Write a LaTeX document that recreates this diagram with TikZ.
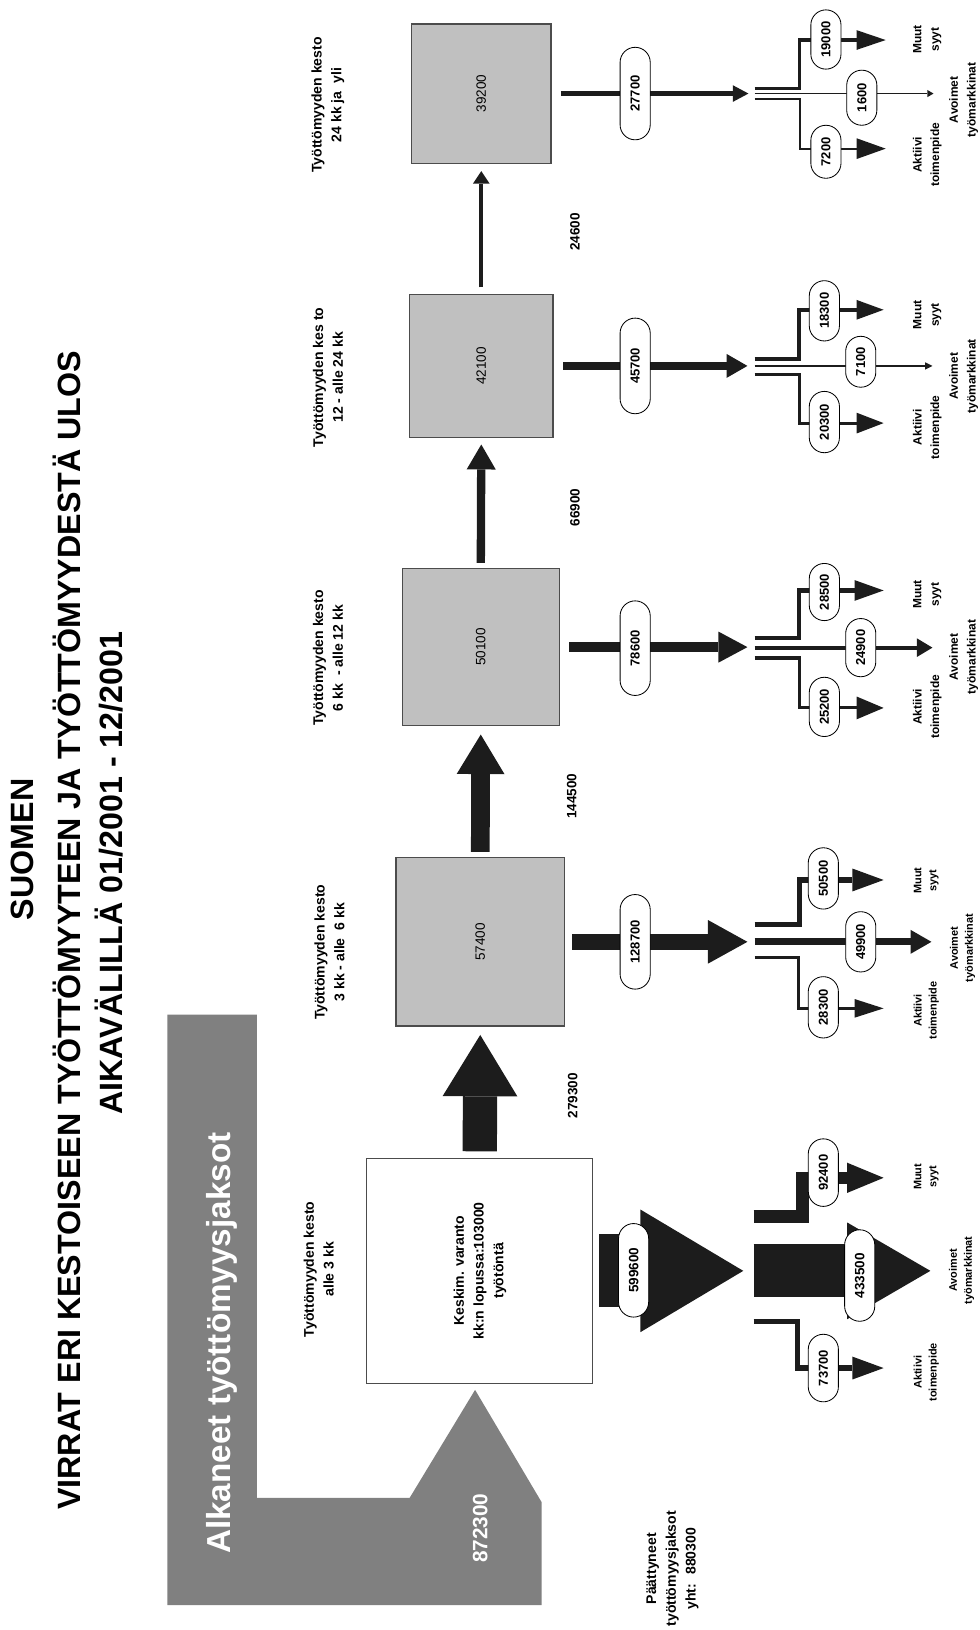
\documentclass[tikz,border=0pt]{standalone}
\usepackage{fontspec}
\setmainfont{Liberation Sans}
\usepackage{graphicx}
\usetikzlibrary{shapes.misc, arrows.meta}
\definecolor{boxgray}{HTML}{C0C0C0}
\definecolor{alkugray}{HTML}{808080}
\definecolor{flowblack}{HTML}{1C1C1C}
\tikzset{
  stagebox/.style={draw=black!70, line width=1.2pt, fill=boxgray, inner sep=0pt, font=\fontsize{13}{15}\selectfont},
  pill/.style={rounded rectangle, draw=black, line width=0.8pt, fill=white, rotate=90, minimum height=29pt, inner sep=1pt, font=\bfseries\fontsize{12.5}{14}\selectfont},
  lbl/.style={rotate=90, align=center, inner sep=0pt, font=\bfseries\fontsize{13.5}{19}\selectfont},
  titlelbl/.style={lbl, font=\bfseries\fontsize{31}{37}\selectfont},
  flowlbl/.style={lbl, font=\bfseries\fontsize{13}{15}\selectfont},
  outlbl/.style={lbl, font=\bfseries\fontsize{11.5}{17}\selectfont},
  outlblsm/.style={lbl, font=\bfseries\fontsize{10.5}{14.5}\selectfont},
  flow/.style={draw=flowblack, line join=miter},
  blockhead/.style 2 args={-{Triangle[length=#1pt, width=#2pt, line width=0pt 0 0]}},
}

\begin{document}
\begin{tikzpicture}[x=1pt, y=-1pt]
        \useasboundingbox (0,0) rectangle (942,1568);

        \node[titlelbl] (t1) at (22,817) {SUOMEN};
        \node[titlelbl] (t2) at (64,895) {VIRRAT ERI KESTOISEEN TYÖTTÖMYYTEEN JA TYÖTTÖMYYDESTÄ ULOS};
        \node[titlelbl] (t3) at (105,840) {AIKAVÄLILLÄ 01/2001 - 12/2001};

        \fill[alkugray] (161,976) -- (247,976) -- (247,1441) -- (394,1441) -- (457,1337)
            -- (521,1445) -- (521,1544) -- (161,1544) -- cycle;
        \node[lbl, text=white, font=\bfseries\fontsize{32}{38}\selectfont] (alk) at (213,1292) {Alkaneet työttömyysjaksot};
        \node[lbl, text=white, font=\bfseries\fontsize{20}{24}\selectfont] (n872) at (462,1470) {872300};

        \node[stagebox, minimum size=134pt] (b39) at (463,90) {\rotatebox{90}{39200}};
        \node[stagebox, minimum size=138pt] (b42) at (463,352) {\rotatebox{90}{42100}};
        \node[stagebox, minimum size=151pt] (b50) at (462.5,622.5) {\rotatebox{90}{50100}};
        \node[stagebox, minimum size=162pt] (b57) at (462,906) {\rotatebox{90}{57400}};
        \node[stagebox, minimum size=217pt, fill=white, line width=1pt, font=\bfseries\fontsize{13.5}{19}\selectfont] (b3) at (461.5,1222.5)
            {\rotatebox{90}{\begin{tabular}{@{}c@{}}Keskim. varanto\\kk:n lopussa:103000\\työtöntä\end{tabular}}};

        \node[lbl] (k24) at (315.5,101) {Työttömyyden kesto\\24 kk ja~ yli};
        \node[lbl] (k12) at (315.5,363) {Työttömyyden kes to\\12 - alle 24 kk};
        \node[lbl] (k6) at (315.5,633) {Työttömyyden kesto\\6 kk~ - alle 12 kk};
        \node[lbl] (k3) at (317,916) {Työttömyyden kesto\\3 kk - alle~ 6 kk};
        \node[lbl] (k0) at (306.5,1221) {Työttömyyden kesto\\alle 3 kk};
        \node[lbl] (paat) at (647,1509) {Päättyneet\\työttömyysjaksot\\yht:~ 880300};

        \draw[flow, line width=4pt, blockhead={12}{16}, shorten <=6pt, shorten >=7pt] (b42.north) to (b39.south);
        \draw[flow, line width=8pt, blockhead={24}{28}, shorten <=5pt, shorten >=6pt] (b50.north) to (b42.south);
        \draw[flow, line width=18pt, blockhead={38}{46}, shorten <=5pt, shorten >=8pt] (b57.north) to (b50.south);
        \draw[flow, line width=33pt, blockhead={59}{72}, shorten <=6pt, shorten >=8pt] (b3.north) to (b57.south);

        \node[flowlbl] (v24600) at (553,223) {24600};
        \node[flowlbl] (v66900) at (553,488) {66900};
        \node[flowlbl] (v144500) at (550,766) {144500};
        \node[flowlbl] (v279300) at (551,1054) {279300};

        \coordinate (oA) at (720,90);
        \coordinate (oB) at (719,352);
        \coordinate (oC) at (719,622.5);
        \coordinate (oD) at (719,906);
        \coordinate (oE) at (715,1222.5);
        \draw[flow, line width=5pt, blockhead={15}{16}, shorten <=9pt] (b39.east) to (oA);
        \draw[flow, line width=7pt, blockhead={20}{23}, shorten <=9pt] (b42.east) to (oB);
        \draw[flow, line width=9.6pt, blockhead={28}{30}, shorten <=9pt] (b50.east) to (oC);
        \draw[flow, line width=15.4pt, blockhead={38}{42}, shorten <=7pt] (b57.east) to (oD);
        \draw[flow, line width=70pt, blockhead={99}{118}, shorten <=6pt] (b3.east) to (oE);

        \coordinate (aT0) at (726,85);     \coordinate (aT1) at (852,38.5);
        \coordinate (aM0) at (726,90);     \coordinate (aM1) at (898,90);
        \coordinate (aB0) at (726,95.5);   \coordinate (aB1) at (852,143);
        \coordinate (bT0) at (726,345);    \coordinate (bT1) at (850,298);
        \coordinate (bM0) at (726,352);    \coordinate (bM1) at (897,352);
        \coordinate (bB0) at (726,360);    \coordinate (bB1) at (850,407);
        \coordinate (cT0) at (726,614);    \coordinate (cT1) at (850,568);
        \coordinate (cM0) at (726,623);    \coordinate (cM1) at (897,623);
        \coordinate (cB0) at (726,633);    \coordinate (cB1) at (850,681);
        \coordinate (dT0) at (726,889.5);  \coordinate (dT1) at (850,846.5);
        \coordinate (dM0) at (726,906);    \coordinate (dM1) at (896,906);
        \coordinate (dB0) at (726,921);    \coordinate (dB1) at (850,970);
        \coordinate (eT0) at (725,1170);   \coordinate (eT1) at (850,1133);
        \coordinate (eM0) at (725,1222.5); \coordinate (eM1) at (895,1222.5);
        \coordinate (eB0) at (725,1271.5); \coordinate (eB1) at (850,1316);

        \draw[flow, line width=3pt, blockhead={28}{19}] (aT0) -- ++(43.5,0) |- (aT1);
        \draw[flow, line width=1.5pt, blockhead={6}{7}] (aM0) to (aM1);
        \draw[flow, line width=2pt, blockhead={28}{20}] (aB0) -- ++(43.5,0) |- (aB1);
        \draw[flow, line width=4pt, blockhead={26}{19}] (bT0) -- ++(43,0) |- (bT1);
        \draw[flow, line width=1.5pt, blockhead={7}{7}] (bM0) to (bM1);
        \draw[flow, line width=3pt, blockhead={26}{20}] (bB0) -- ++(43,0) |- (bB1);
        \draw[flow, line width=4pt, blockhead={28}{20}] (cT0) -- ++(43,0) |- (cT1);
        \draw[flow, line width=4pt, blockhead={15}{18}] (cM0) to (cM1);
        \draw[flow, line width=3pt, blockhead={26}{22}] (cB0) -- ++(43,0) |- (cB1);
        \draw[flow, line width=5pt, blockhead={30}{22}] (dT0) -- ++(43,0) |- (dT1);
        \draw[flow, line width=7pt, blockhead={20}{23}] (dM0) to (dM1);
        \draw[flow, line width=2.5pt, blockhead={28}{18}] (dB0) -- ++(42,0) |- (dB1);
        \draw[flow, line width=12pt, blockhead={35}{29}] (eT0) -- ++(47,0) |- (eT1);
        \draw[flow, line width=51pt, blockhead={80}{93}] (eM0) to (eM1);
        \draw[flow, line width=5pt, blockhead={30}{22}] (eB0) -- ++(42,0) |- (eB1);

        \node[pill, minimum width=91pt] (p27700) at (611,90) {27700};
        \node[pill, minimum width=59pt] (p19000) at (794.5,38) {19000};
        \node[pill, minimum width=55pt] (p1600) at (829,94) {1600};
        \node[pill, minimum width=53pt] (p7200) at (794.5,146) {7200};
        \node[pill, minimum width=94pt] (p45700) at (611,352) {45700};
        \node[pill, minimum width=60pt] (p18300) at (793,299) {18300};
        \node[pill, minimum width=51pt] (p7100) at (828,348) {7100};
        \node[pill, minimum width=61pt] (p20300) at (793,406) {20300};
        \node[pill, minimum width=93pt] (p78600) at (611,623.5) {78600};
        \node[pill, minimum width=57pt] (p28500) at (793,569.5) {28500};
        \node[pill, minimum width=58pt] (p24900) at (828,623) {24900};
        \node[pill, minimum width=59pt] (p25200) at (793,680) {25200};
        \node[pill, minimum width=93pt] (p128700) at (611,906) {128700};
        \node[pill, minimum width=61pt] (p50500) at (792,845) {50500};
        \node[pill, minimum width=60pt] (p49900) at (828,906) {49900};
        \node[pill, minimum width=61pt] (p28300) at (792,969) {28300};
        \node[pill, minimum width=92pt, font=\bfseries\fontsize{13}{15}\selectfont] (p599600) at (609.5,1222) {599600};
        \node[pill, minimum width=67pt] (p92400) at (792,1128) {92400};
        \node[pill, minimum width=90pt, font=\bfseries\fontsize{13}{15}\selectfont] (p433500) at (827,1227) {433500};
        \node[pill, minimum width=67pt] (p73700) at (792,1316) {73700};

        \node[outlbl] (mA) at (892,38) {Muut\\syyt};
        \node[outlbl] (vA) at (927,96) {Avoimet\\työmarkkinat};
        \node[outlbl] (aA) at (892,149) {Aktiivi\\toimenpide};
        \node[outlbl] (mB) at (892,303) {Muut\\syyt};
        \node[outlbl] (vB) at (927,362) {Avoimet\\työmarkkinat};
        \node[outlbl] (aB) at (892,411) {Aktiivi\\toimenpide};
        \node[outlbl] (mC) at (892,572) {Muut\\syyt};
        \node[outlbl] (vC) at (927,632) {Avoimet\\työmarkkinat};
        \node[outlbl] (aC) at (892,680) {Aktiivi\\toimenpide};
        \node[outlblsm] (mD) at (891,847) {Muut\\syyt};
        \node[outlblsm] (vD) at (926,912) {Avoimet\\työmarkkinat};
        \node[outlblsm] (aD) at (891,972) {Aktiivi\\toimenpide};
        \node[outlblsm] (mE) at (891,1132) {Muut\\syyt};
        \node[outlblsm] (vE) at (925,1222) {Avoimet\\työmarkkinat};
        \node[outlblsm] (aE) at (891,1320) {Aktiivi\\toimenpide};
\end{tikzpicture}
\end{document}
